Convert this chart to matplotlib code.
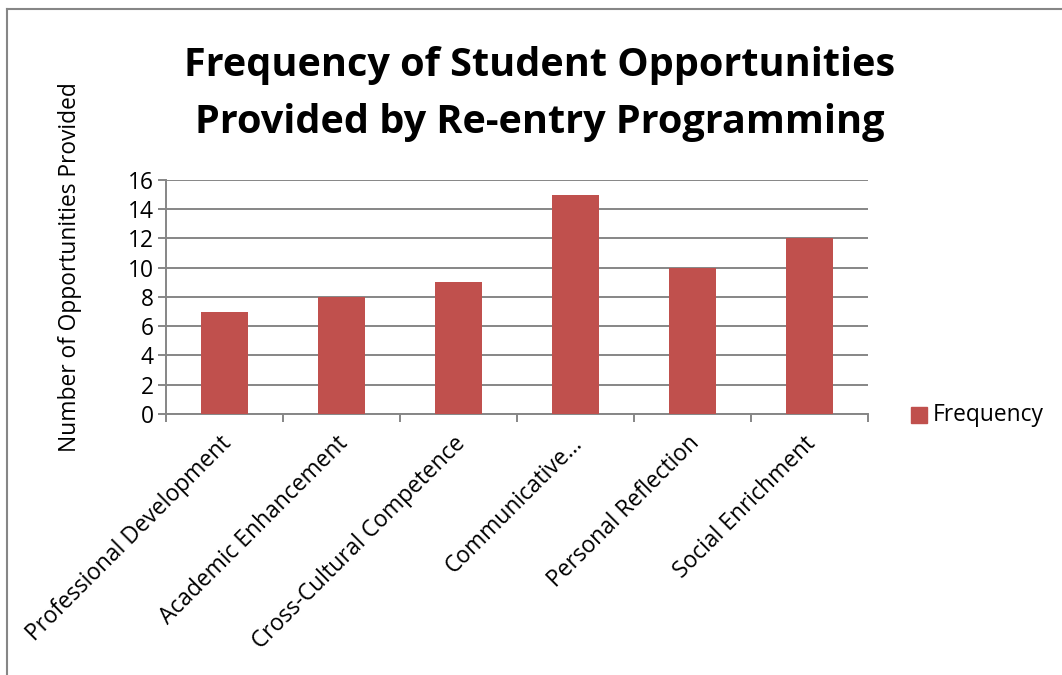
import matplotlib
matplotlib.use("Agg")
import matplotlib.pyplot as plt
import matplotlib.transforms as mtransforms
from matplotlib.lines import Line2D
from matplotlib.patches import Rectangle

categories = ["Professional Development", "Academic Enhancement", "Cross-Cultural Competence",
              "Communicative\u2026", "Personal Reflection", "Social Enrichment"]
frequency = [7, 8, 9, 15, 10, 12]
yticks = [0, 2, 4, 6, 8, 10, 12, 14, 16]
title = "Frequency of Student Opportunities\nProvided by Re-entry Programming"
ylabel = "Number of Opportunities Provided"
series_name = "Frequency"

plt.rcParams['font.family'] = ['Open Sans', 'DejaVu Sans']
W, H = 1062, 675
fig = plt.figure(figsize=(W / 100, H / 100), dpi=100)
bar_color = "#C0504D"
grid_color = "#868686"
fs = 16.4

ax = fig.add_axes([166 / W, 1 - 414 / H, (868 - 166) / W, (414 - 180) / H])
x = list(range(len(categories)))
ax.bar(x, frequency, width=0.4, color=bar_color, zorder=3)
ax.set_xlim(-0.5, len(categories) - 0.5)
ax.set_ylim(0, 16)
ax.set_yticks(yticks)
ax.set_yticklabels([str(v) for v in yticks], fontsize=fs)
ax.yaxis.grid(True, color=grid_color, linewidth=1.4, zorder=0)
for s in ["top", "right"]:
    ax.spines[s].set_visible(False)
for s in ["left", "bottom"]:
    ax.spines[s].set_color(grid_color)
    ax.spines[s].set_linewidth(1.4)
ax.tick_params(axis='y', length=6, width=1.4, color=grid_color, pad=3)
ax.set_xticks([i - 0.5 for i in range(len(categories) + 1)], minor=False)
ax.set_xticklabels([])
ax.tick_params(axis='x', length=6, width=1.4, color=grid_color)

for i, lab in enumerate(categories):
    tr = ax.get_xaxis_transform() + mtransforms.ScaledTranslation(3 / 100, -26 / 100, fig.dpi_scale_trans)
    ax.text(i, 0, lab, transform=tr, rotation=45, rotation_mode='anchor',
            ha='right', va='center', fontsize=fs)

fig.text(70 / W, 1 - 267 / H, ylabel, rotation=90, ha='center', va='center', fontsize=fs)

fig.text(540 / W, 1 - 94 / H, title, ha='center', va='center', fontsize=28.5,
         fontweight='bold', linespacing=1.6)

# legend
fig.patches.append(Rectangle((911 / W, 1 - 423 / H), 16 / W, 16 / H,
                             transform=fig.transFigure, color=bar_color))
fig.text(933 / W, 1 - 415 / H, series_name, ha='left', va='center', fontsize=fs)

# chart border (top & left visible)
fig.add_artist(Line2D([7 / W, 7 / W], [0, 1 - 9 / H], transform=fig.transFigure,
                      color=grid_color, linewidth=1.5))
fig.add_artist(Line2D([7 / W, 1], [1 - 9 / H, 1 - 9 / H], transform=fig.transFigure,
                      color=grid_color, linewidth=1.5))

fig.savefig("out.png", dpi=100)
